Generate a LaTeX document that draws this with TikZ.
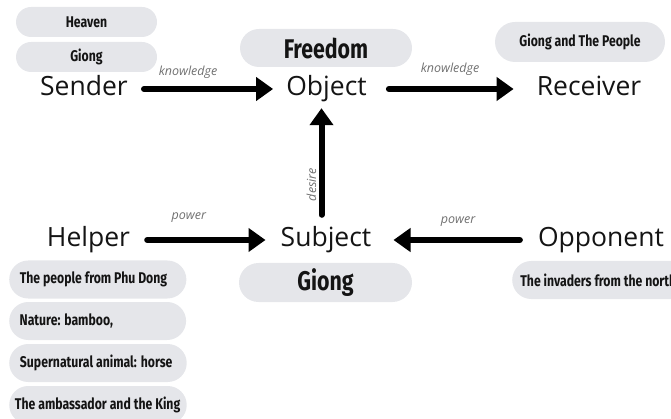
\documentclass[tikz,border=0pt]{standalone}
\usepackage{fontspec}
\setmainfont{Open Sans}
\newfontfamily\condf{Fira Sans}[FakeStretch=0.79]
\usetikzlibrary{arrows.meta,shapes.misc}
\definecolor{pillgray}{HTML}{E5E6EA}
\definecolor{lblgray}{HTML}{707070}
\definecolor{ink}{HTML}{141414}
\tikzset{
  role/.style={inner sep=0pt, text height=20pt, text depth=6pt, font=\fontsize{26.5}{30}\selectfont, text=ink},
  pill/.style={rounded rectangle, fill=pillgray, inner sep=0pt, text=ink},
  smallpill/.style={pill, minimum height=30pt, font=\condf\bfseries\fontsize{15.5}{17}\selectfont},
  bigpill/.style={pill, minimum height=38pt, font=\condf\bfseries\fontsize{27}{29}\selectfont},
  listpill/.style={pill, minimum height=38pt, anchor=west, inner xsep=9pt, font=\condf\bfseries\fontsize{15.5}{17}\selectfont},
  arr/.style={line width=6pt, line cap=round, -{Triangle[length=17pt,width=23pt]}, draw=black},
  lbl/.style={font=\itshape\fontsize{12.5}{14}\selectfont, text=lblgray, inner sep=0pt}
}
\begin{document}
\begin{tikzpicture}[x=1pt,y=-1pt]
\useasboundingbox (0,0) rectangle (671,419);
% roles
\node[role] (sender) at (84,89) {Sender};
\node[role] (object) at (326.5,89) {Object};
\node[role] (receiver) at (589,89) {Receiver};
\node[role] (helper) at (88.5,240) {Helper};
\node[role] (subject) at (326,240) {Subject};
\node[role] (opponent) at (601,240) {Opponent};
% pills
\node[smallpill, minimum width=141pt] (heaven) at (86.5,22) {Heaven};
\node[smallpill, minimum width=141pt] (giongs) at (86.5,57) {Giong};
\node[bigpill, minimum width=172pt] (freedom) at (326,48) {Freedom};
\node[smallpill, minimum width=170pt, minimum height=40pt] (people) at (580,42) {Giong and The People};
\node[bigpill, minimum width=173pt, minimum height=39pt] (giong) at (325.5,282.5) {Giong};
\node[listpill, inner xsep=7pt] (invaders) at (512,280) {\makebox[170pt][l]{The invaders from the north}};
\node[listpill] (phudong) at (9,279.5) {\makebox[156pt][l]{The people from Phu Dong}};
\node[listpill] (nature) at (9,321) {\makebox[156pt][l]{Nature: bamboo,}};
\node[listpill] (horse) at (9,363) {\makebox[156pt][l]{Supernatural animal: horse}};
\node[listpill, inner xsep=4pt] (king) at (9,405) {\makebox[166pt][l]{The ambassador and the King}};
% connectors
\draw[arr, shorten <=16pt, shorten >=13pt] (sender.east) -- node[lbl, pos=0.38, yshift=17pt] {knowledge} (object.west);
\draw[arr, shorten <=22pt, shorten >=23pt] (object.east) -- node[lbl, pos=0.49, yshift=20pt] {knowledge} (receiver.west);
\draw[arr, shorten <=12pt, shorten >=6pt] ([xshift=-4.5pt]subject.north) -- node[lbl, pos=0.34, rotate=90, yshift=10pt] {desire} ([xshift=-4.5pt]subject.north |- object.south);
\draw[arr, shorten <=17pt, shorten >=15pt] (helper.east) -- node[lbl, pos=0.39, yshift=22pt] {power} (subject.west);
\draw[arr, shorten <=18pt, shorten >=22pt] (opponent.west) -- node[lbl, pos=0.48, yshift=18pt] {power} (subject.east);
\end{tikzpicture}
\end{document}
